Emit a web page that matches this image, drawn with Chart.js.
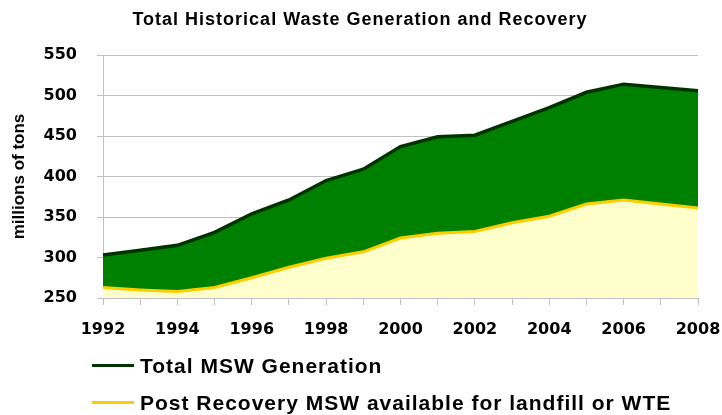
<!DOCTYPE html>
<html>
<head>
<meta charset="utf-8">
<script src="https://cdn.jsdelivr.net/npm/chart.js@4/dist/chart.umd.min.js"></script>
<style>
  body { margin: 0; background: #fff; }
  #wrap { position: relative; width: 722px; height: 415px; font-family: "Liberation Sans", Arial, sans-serif; }
  #wasteChart { position: absolute; left: 0; top: 0; }
  #title { position: absolute; left: 0; top: 10px; width: 720px; text-align: center;
           font-weight: bold; font-size: 18px; line-height: 18px; letter-spacing: 1px; color: #000; }
  .leg { position: absolute; left: 92px; height: 21px; display: flex; align-items: center;
         font-weight: bold; font-size: 21px; line-height: 21px; letter-spacing: 1px; color: #000; white-space: nowrap; }
  .leg i { display: inline-block; width: 42px; height: 3px; margin-right: 6px; }
</style>
</head>
<body>
<div id="wrap">
  <canvas id="wasteChart" width="722" height="415"></canvas>
  <div id="title">Total Historical Waste Generation and Recovery</div>
  <div class="leg" style="top:355px"><i style="background:#003300"></i>Total MSW Generation</div>
  <div class="leg" style="top:392px"><i style="background:#FFCC00"></i>Post Recovery MSW available for landfill or WTE</div>
</div>
<script>
// values (millions of tons)
var years = ['1992', '1993', '1994', '1995', '1996', '1997', '1998', '1999', '2000',
             '2001', '2002', '2003', '2004', '2005', '2006', '2007', '2008'];
var totalMSW = [303, 309, 315, 331, 354, 371, 395, 409, 437, 449, 451, 468, 485, 504, 514, 510, 506];
var postRecovery = [263, 260, 258, 263, 275, 288, 299, 307, 324, 330, 332, 343, 351, 366, 371, 366, 361];

var gridGrey = '#C0C0C0';
var tickFont = { family: 'DejaVu Sans', weight: 'bold', size: 16 };

var ctx = document.getElementById('wasteChart').getContext('2d');
var wasteChart = new Chart(ctx, {
    type: 'line',
    data: {
        labels: years,
        datasets: [{
            label: 'Total MSW Generation',
            data: totalMSW,
            borderColor: '#003300',
            borderWidth: 3.5,
            backgroundColor: '#008000',
            fill: '+1',
            order: 1
        }, {
            label: 'Post Recovery MSW available for landfill or WTE',
            data: postRecovery,
            borderColor: '#FFCC00',
            borderWidth: 3,
            backgroundColor: '#FFFFCC',
            fill: 'start',
            order: 0
        }]
    },
    options: {
        responsive: false,
        animation: false,
        layout: { padding: { top: 55, right: 24, bottom: 0, left: 0 } },
        elements: { point: { radius: 0 }, line: { tension: 0 } },
        plugins: {
            legend: { display: false },
            title: { display: false },
            tooltip: { enabled: false }
        },
        scales: {
            x: {
                offset: false,
                grid: { drawOnChartArea: false, drawTicks: true, tickLength: 7, color: gridGrey },
                border: { color: gridGrey },
                ticks: {
                    autoSkip: false,
                    maxRotation: 0,
                    padding: 15,
                    color: '#000',
                    font: tickFont,
                    callback: function (v, i) { return i % 2 === 0 ? years[i] : ''; }
                },
                afterFit: function (s) {
                    s.height = 117;
                    s.paddingLeft = 0;
                    s.paddingRight = 0;
                }
            },
            y: {
                min: 250,
                max: 550,
                grid: { color: gridGrey, tickLength: 6 },
                border: { color: gridGrey },
                ticks: { stepSize: 50, padding: 20, color: '#000', font: tickFont },
                title: {
                    display: true,
                    text: 'millions of tons',
                    color: '#000',
                    padding: { top: 9, bottom: 0 },
                    font: { family: 'Liberation Sans', weight: 'bold', size: 17 }
                },
                afterFit: function (s) { s.width = 103; }
            }
        }
    }
});
</script>
</body>
</html>
